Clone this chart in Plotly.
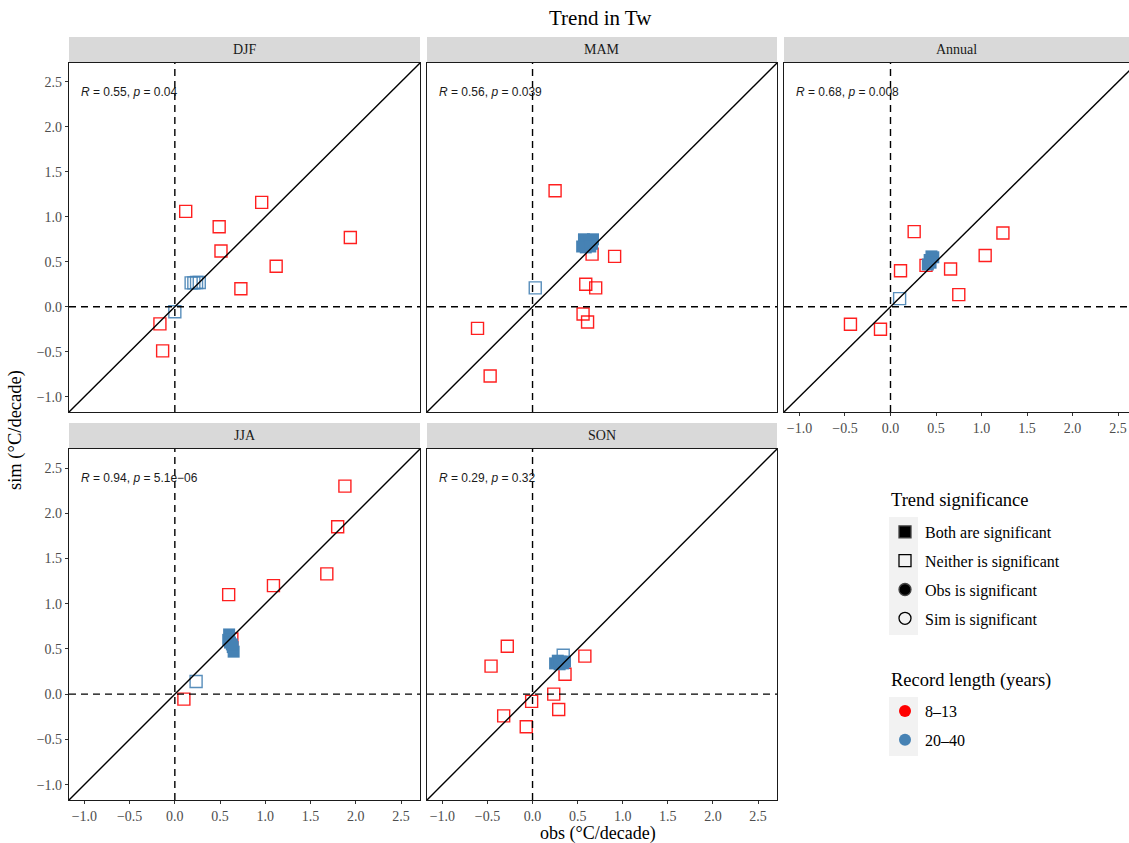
import plotly.graph_objects as go

# ---------------- data ----------------
seasons = ["DJF", "MAM", "Annual", "JJA", "SON"]
stats_text = ["<i>R</i> = 0.55, <i>p</i> = 0.04",
              "<i>R</i> = 0.56, <i>p</i> = 0.039",
              "<i>R</i> = 0.68, <i>p</i> = 0.008",
              "<i>R</i> = 0.94, <i>p</i> = 5.1e\u221206",
              "<i>R</i> = 0.29, <i>p</i> = 0.32"]

# short records (8-13 years), neither trend significant
djf_short_obs = [0.12, 0.96, 0.49, 0.51, 1.94, 1.12, 0.73, -0.165, -0.135]
djf_short_sim = [1.06, 1.16, 0.89, 0.62, 0.77, 0.45, 0.20, -0.19, -0.49]
mam_short_obs = [0.25, 0.91, 0.66, 0.59, 0.70, 0.56, 0.61, -0.61, -0.47]
mam_short_sim = [1.29, 0.56, 0.585, 0.25, 0.21, -0.08, -0.17, -0.24, -0.77]
ann_short_obs = [0.26, 1.235, 1.04, 0.11, 0.66, 0.39, 0.75, -0.44, -0.11]
ann_short_sim = [0.835, 0.82, 0.57, 0.40, 0.42, 0.46, 0.135, -0.195, -0.25]
jja_short_obs = [1.88, 1.80, 1.68, 1.09, 0.595, 0.63, 0.10]
jja_short_sim = [2.30, 1.85, 1.33, 1.20, 1.10, 0.61, -0.055]
son_short_obs = [-0.28, -0.46, 0.58, 0.36, 0.235, -0.01, 0.29, -0.32, -0.07]
son_short_sim = [0.53, 0.31, 0.42, 0.22, 0.0, -0.08, -0.17, -0.24, -0.36]

# long records (20-40 years), neither trend significant
djf_long_n_obs = [0.18, 0.21, 0.24, 0.27, 0.0]
djf_long_n_sim = [0.265, 0.265, 0.27, 0.27, -0.055]
mam_long_n_obs = [0.03]
mam_long_n_sim = [0.21]
ann_long_n_obs = [0.10]
ann_long_n_sim = [0.09]
jja_long_n_obs = [0.235]
jja_long_n_sim = [0.14]
son_long_n_obs = [0.34]
son_long_n_sim = [0.43]

# long records (20-40 years), both trends significant
djf_long_b_obs = []
djf_long_b_sim = []
mam_long_b_obs = [0.55, 0.57, 0.60, 0.63, 0.66, 0.67, 0.59, 0.64]
mam_long_b_sim = [0.67, 0.75, 0.72, 0.74, 0.70, 0.75, 0.66, 0.67]
ann_long_b_obs = [0.41, 0.43, 0.45, 0.47, 0.44]
ann_long_b_sim = [0.47, 0.52, 0.56, 0.55, 0.49]
jja_long_b_obs = [0.60, 0.59, 0.61, 0.64, 0.65, 0.63]
jja_long_b_sim = [0.66, 0.60, 0.57, 0.52, 0.47, 0.55]
son_long_b_obs = [0.25, 0.28, 0.31, 0.34, 0.36, 0.30]
son_long_b_sim = [0.34, 0.37, 0.36, 0.34, 0.36, 0.33]

short_obs = [djf_short_obs, mam_short_obs, ann_short_obs, jja_short_obs, son_short_obs]
short_sim = [djf_short_sim, mam_short_sim, ann_short_sim, jja_short_sim, son_short_sim]
long_n_obs = [djf_long_n_obs, mam_long_n_obs, ann_long_n_obs, jja_long_n_obs, son_long_n_obs]
long_n_sim = [djf_long_n_sim, mam_long_n_sim, ann_long_n_sim, jja_long_n_sim, son_long_n_sim]
long_b_obs = [djf_long_b_obs, mam_long_b_obs, ann_long_b_obs, jja_long_b_obs, son_long_b_obs]
long_b_sim = [djf_long_b_sim, mam_long_b_sim, ann_long_b_sim, jja_long_b_sim, son_long_b_sim]

sig_title = "Trend significance"
sig_labels = ["Both are significant", "Neither is significant",
              "Obs is significant", "Sim is significant"]
sig_symbols = ["square", "square-open", "circle", "circle-open"]
len_title = "Record length (years)"
len_labels = ["8\u201313", "20\u201340"]
len_colors = ["#FF0000", "#4682B4"]

tick_vals = [-1.0, -0.5, 0.0, 0.5, 1.0, 1.5, 2.0, 2.5]

# ---------------- layout geometry ----------------
W, H = 1129, 843
RANGE = [-1.17, 2.71]
ANN_XRANGE = [-1.17, 2.62]   # annual panel is clipped at the right edge
col_px = [(69, 420), (427, 777), (784, 1129)]
row_px = [(63, 412), (449, 800)]       # panel top / bottom in px
strip_px = [(37, 62), (423, 448)]
panel_pos = [(0, 0), (0, 1), (0, 2), (1, 0), (1, 1)]

SERIF = "Liberation Serif, Times New Roman, serif"
SANS = "Liberation Sans, Arial, sans-serif"

fig = go.Figure()
layout = {}
shapes = []
annotations = []

for i, (r, c) in enumerate(panel_pos):
    n = i + 1
    xa = "xaxis" if n == 1 else f"xaxis{n}"
    ya = "yaxis" if n == 1 else f"yaxis{n}"
    xr = "x" if n == 1 else f"x{n}"
    yr = "y" if n == 1 else f"y{n}"
    x0p, x1p = col_px[c]
    y0p, y1p = row_px[r]
    xrange = ANN_XRANGE if seasons[i] == "Annual" else RANGE
    show_x = (r == 1) or (seasons[i] == "Annual")
    show_y = (c == 0)
    layout[xa] = dict(domain=[x0p / W, min(x1p / W, 1.0)], range=xrange, anchor=yr,
                      showgrid=False, zeroline=False, showline=True, mirror=True,
                      linecolor="#1A1A1A", linewidth=1.2,
                      tickvals=tick_vals, tickformat=".1f",
                      showticklabels=show_x, ticks="outside" if show_x else "",
                      ticklen=3, tickcolor="#333333", tickwidth=1,
                      tickfont=dict(family=SERIF, size=14, color="#4D4D4D"))
    layout[ya] = dict(domain=[1 - y1p / H, 1 - y0p / H], range=RANGE, anchor=xr,
                      showgrid=False, zeroline=False, showline=True, mirror=True,
                      linecolor="#1A1A1A", linewidth=1.2,
                      tickvals=tick_vals, tickformat=".1f",
                      showticklabels=show_y, ticks="outside" if show_y else "",
                      ticklen=3, tickcolor="#333333", tickwidth=1,
                      tickfont=dict(family=SERIF, size=14, color="#4D4D4D"))

    # points
    fig.add_trace(go.Scatter(x=short_obs[i], y=short_sim[i], mode="markers", xaxis=xr, yaxis=yr,
                             marker=dict(symbol="square-open", size=12, color="rgba(255,0,0,0.88)",
                                         line=dict(width=1.4)),
                             showlegend=False, hoverinfo="skip"))
    fig.add_trace(go.Scatter(x=long_n_obs[i], y=long_n_sim[i], mode="markers", xaxis=xr, yaxis=yr,
                             marker=dict(symbol="square-open", size=12, color="rgba(70,130,180,0.9)",
                                         line=dict(width=1.4)),
                             showlegend=False, hoverinfo="skip"))
    fig.add_trace(go.Scatter(x=long_b_obs[i], y=long_b_sim[i], mode="markers", xaxis=xr, yaxis=yr,
                             marker=dict(symbol="square", size=12, color="#4682B4",
                                         line=dict(width=0)),
                             showlegend=False, hoverinfo="skip"))

    # reference lines
    lo, hi = RANGE
    shapes.append(dict(type="line", xref=xr, yref=yr, x0=lo, y0=lo, x1=hi, y1=hi,
                       line=dict(color="black", width=1.4)))
    shapes.append(dict(type="line", xref=xr, yref=yr, x0=0, y0=lo, x1=0, y1=hi,
                       line=dict(color="black", width=1.4, dash="7px,5px")))
    shapes.append(dict(type="line", xref=xr, yref=yr, x0=xrange[0], y0=0, x1=xrange[1], y1=0,
                       line=dict(color="black", width=1.4, dash="7px,5px")))

    # strip
    s0, s1 = strip_px[r]
    shapes.append(dict(type="rect", xref="paper", yref="paper", layer="below",
                       x0=x0p / W, x1=min(x1p / W, 1.0), y0=1 - s1 / H, y1=1 - s0 / H,
                       fillcolor="#D9D9D9", line=dict(width=0)))
    annotations.append(dict(text=seasons[i], xref="paper", yref="paper",
                            x=(x0p + min(x1p, W)) / 2 / W, y=1 - (s0 + s1) / 2 / H,
                            xanchor="center", yanchor="middle", showarrow=False,
                            font=dict(family=SERIF, size=14, color="#1A1A1A")))
    # stats label
    annotations.append(dict(text=stats_text[i], xref=f"{xr} domain", yref=f"{yr} domain",
                            x=10 / 351, y=0.917, xanchor="left", yanchor="middle",
                            showarrow=False, font=dict(family=SANS, size=12, color="#1A1A1A")))

# legend dummy entries
for lab, sym in zip(sig_labels, sig_symbols):
    fig.add_trace(go.Scatter(x=[None], y=[None], mode="markers", name=lab, legend="legend",
                             legendgroup=lab,
                             marker=dict(symbol=sym, size=12, color="black", line=dict(width=1.3))))
for lab, col in zip(len_labels, len_colors):
    fig.add_trace(go.Scatter(x=[None], y=[None], mode="markers", name=lab, legend="legend2",
                             legendgroup=lab,
                             marker=dict(symbol="circle", size=12, color=col)))

# legend key backgrounds
shapes.append(dict(type="rect", xref="paper", yref="paper", layer="below",
                   x0=889 / W, x1=918 / W, y0=1 - 635 / H, y1=1 - 517 / H,
                   fillcolor="#F2F2F2", line=dict(width=0)))
shapes.append(dict(type="rect", xref="paper", yref="paper", layer="below",
                   x0=889 / W, x1=918 / W, y0=1 - 756 / H, y1=1 - 697 / H,
                   fillcolor="#F2F2F2", line=dict(width=0)))

# legend titles
annotations.append(dict(text=sig_title, xref="paper", yref="paper",
                        x=889 / W, y=1 - 500 / H, xanchor="left", yanchor="middle",
                        showarrow=False, font=dict(family=SERIF, size=18.5, color="black")))
annotations.append(dict(text=len_title, xref="paper", yref="paper",
                        x=889 / W, y=1 - 680 / H, xanchor="left", yanchor="middle",
                        showarrow=False, font=dict(family=SERIF, size=18.5, color="black")))

# axis titles and main title
annotations.append(dict(text="obs (\u00b0C/decade)", xref="paper", yref="paper",
                        x=598 / W, y=1 - 833 / H, xanchor="center", yanchor="middle",
                        showarrow=False, font=dict(family=SERIF, size=18, color="black")))
annotations.append(dict(text="sim (\u00b0C/decade)", xref="paper", yref="paper",
                        x=15 / W, y=1 - 430 / H, xanchor="center", yanchor="middle", textangle=-90,
                        showarrow=False, font=dict(family=SERIF, size=18.5, color="black")))
annotations.append(dict(text="Trend in Tw", xref="paper", yref="paper",
                        x=600 / W, y=1 - 18 / H, xanchor="center", yanchor="middle",
                        showarrow=False, font=dict(family=SERIF, size=21, color="black")))

legend_common = dict(xanchor="left", yanchor="top", bgcolor="rgba(0,0,0,0)",
                     font=dict(family=SERIF, size=16, color="black"),
                     itemclick=False, itemdoubleclick=False, tracegroupgap=5,
                     traceorder="grouped")
fig.update_layout(
    width=W, height=H, margin=dict(l=0, r=0, t=0, b=0),
    paper_bgcolor="white", plot_bgcolor="white",
    shapes=shapes, annotations=annotations,
    legend=dict(x=885 / W, y=1 - 515 / H, **legend_common),
    legend2=dict(x=885 / W, y=1 - 694 / H, **legend_common),
    **layout,
)

fig.write_html("out.html")
